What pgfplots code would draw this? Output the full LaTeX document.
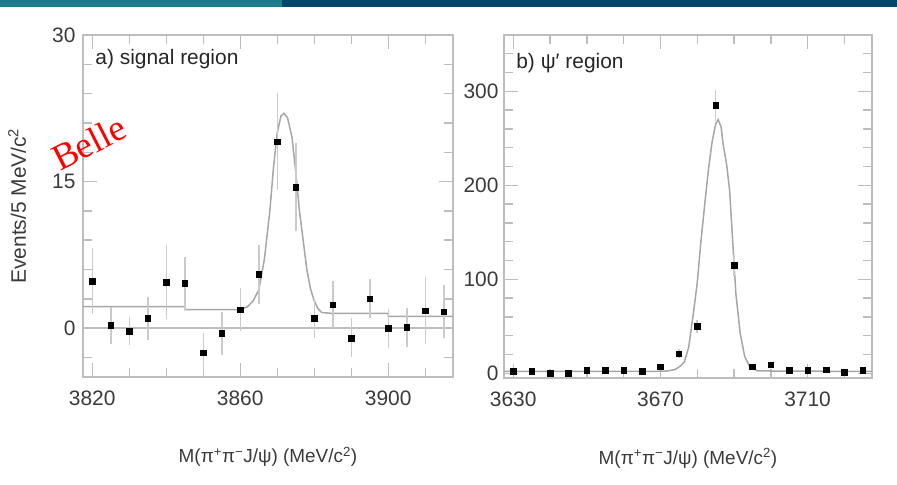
\documentclass[border=0pt]{standalone}
\usepackage{pgfplots}
\pgfplotsset{compat=1.18}
\usepackage{fontspec}
\setmainfont{Liberation Sans}
\newfontfamily\serifbelle{Liberation Serif}

\definecolor{barteal}{HTML}{1B7D8C}
\definecolor{barnavy}{HTML}{03466B}
\definecolor{framegray}{HTML}{BDBDBD}
\definecolor{errgray}{HTML}{CACACA}
\definecolor{fitgray}{HTML}{A6A6A6}
\definecolor{labgray}{HTML}{3A3A3A}

\pgfplotsset{
  panel/.style={
    scale only axis,
    axis line style={framegray, line width=1.6bp},
    tick style={framegray, line width=1.4bp},
    tick align=inside, xtick pos=both, ytick pos=both,
    major tick length=14bp, minor tick length=9bp,
    tick label style={font=\fontsize{21}{21}\selectfont, text=labgray},
    /pgf/number format/assume math mode=true,
    /pgf/number format/set thousands separator={},
    xticklabel style={yshift=-10bp},
    label style={font=\fontsize{19}{19}\selectfont, text=labgray},
    x label style={at={(axis description cs:0.5,-0.234)}, anchor=center},
  },
  datapts/.style={only marks, mark=square*, mark size=2.8bp, black,
    error bars/.cd, y dir=both, y explicit, error mark=none,
    error bar style={errgray, line width=1.5bp}},
  fitline/.style={no marks, fitgray, line width=1.5bp},
}

\begin{document}
\begin{tikzpicture}
\path[use as bounding box] (0bp,0bp) rectangle (897bp,485bp);
% header strip
\fill[barteal] (0bp,478bp) rectangle (282bp,485bp);
\fill[barnavy] (282bp,478bp) rectangle (897bp,485bp);

% (a) signal region
\begin{axis}[panel,
  at={(83bp,108bp)}, anchor=south west, width=370bp, height=342bp,
  xmin=3817.5, xmax=3917.5, ymin=-5, ymax=30,
  xtick={3820,3860,3900},
  minor xtick={3830,3840,3850,3870,3880,3890,3910},
  ytick={0,15,30},
  minor ytick={-3,3,6,9,12,18,21,24,27},
  yticklabel style={xshift=-4bp},
  xlabel={M(π\textsuperscript{+}π\textsuperscript{−}J/ψ) (MeV/c\textsuperscript{2})},
  ylabel={Events/5 MeV/c\textsuperscript{2}},
  y label style={at={(axis description cs:-0.178,0.5)}, anchor=center,
    font=\fontsize{21}{21}\selectfont},
]
\addplot[framegray, line width=1.4bp] coordinates {(3817.5,0) (3917.5,0)};
\addplot[fitline] coordinates {
  (3817.5,2.2) (3845,2.2) (3845,1.9) (3860,1.9) (3862,2.2) (3863.5,2.8)
  (3865,3.9) (3866.5,7) (3868,12) (3869,16.5) (3870,20) (3871,21.7)
  (3871.8,22.0) (3872.8,21.5) (3874,19.5) (3875,16) (3876,12) (3877,9)
  (3878,6) (3879,4) (3880,2.8) (3881,2) (3882,1.6) (3885,1.5) (3900,1.5)
  (3900,1.2) (3917.5,1.2)};
\addplot[datapts] table[x=x, y=y, y error=e] {
  x     y     e
  3820  4.8   3.4
  3825  0.3   1.9
  3830  -0.3  1.4
  3835  1.0   2.2
  3840  4.7   3.8
  3845  4.6   2.7
  3850  -2.5  2.0
  3855  -0.5  2.2
  3860  1.9   2.2
  3865  5.5   3.0
  3870  19.1  5.0
  3875  14.4  4.5
  3880  1.0   2.0
  3885  2.4   2.4
  3890  -1.0  2.0
  3895  3.0   2.0
  3900  0.0   2.0
  3905  0.1   2.0
  3910  1.8   3.4
  3915  1.7   2.7
};
\node[anchor=west, font=\fontsize{21}{21}\selectfont, text=black!85]
  at (axis description cs:0.024,0.930) {a) signal region};
\end{axis}

% (b) psi' region
\begin{axis}[panel,
  at={(504bp,107bp)}, anchor=south west, width=368bp, height=343bp,
  xmin=3627.5, xmax=3727.5, ymin=-5, ymax=360,
  xtick={3630,3670,3710},
  minor xtick={3640,3650,3660,3680,3690,3700,3720},
  ytick={0,100,200,300},
  minor ytick={20,40,60,80,120,140,160,180,220,240,260,280,320,340},
  yticklabel style={xshift=-2bp},
  xlabel={M(π\textsuperscript{+}π\textsuperscript{−}J/ψ) (MeV/c\textsuperscript{2})},
]
\addplot[fitline] coordinates {
  (3627.5,2) (3668,2) (3672,2.5) (3674,4) (3675.5,8) (3676.5,12)
  (3677.7,28) (3679,65) (3680,96) (3681,140) (3682,178) (3683,215)
  (3684,245) (3685,265) (3685.7,270) (3686.5,262) (3687,245) (3688,222)
  (3688.8,195) (3689.5,150) (3690.5,85) (3691.7,42) (3692.9,18)
  (3694.4,6) (3696.5,2.5) (3727.5,2)};
\addplot[datapts] table[x=x, y=y, y error=e] {
  x     y     e
  3630  2     1.5
  3635  2     1.5
  3640  0     1
  3645  0     1
  3650  3     2
  3655  3     2
  3660  3     2
  3665  2     1.5
  3670  7     3
  3675  21    5
  3680  50    7
  3685  285   16
  3690  115   11
  3695  7     3
  3700  9     3
  3705  3     2
  3710  3     2
  3715  4     2
  3720  1     1
  3725  3.5   2
};
\node[anchor=west, font=\fontsize{21}{21}\selectfont, text=black!85]
  at (axis description cs:0.024,0.918) {b) ψ′ region};
\end{axis}

% experiment tag
\node[rotate=27, text=red, font=\serifbelle\fontsize{37}{37}\selectfont]
  at (89bp,342bp) {Belle};
\end{tikzpicture}
\end{document}
